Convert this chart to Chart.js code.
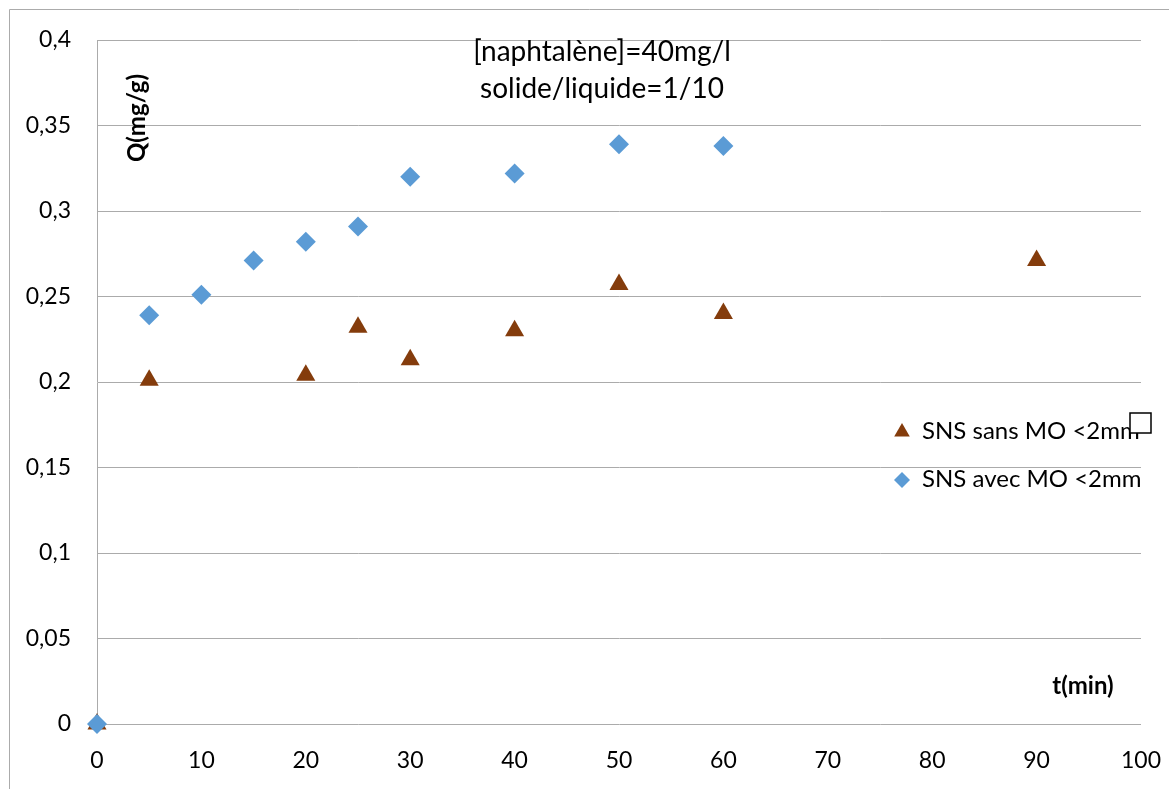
<!DOCTYPE html>
<html>
<head>
<meta charset="utf-8">
<script src="https://cdn.jsdelivr.net/npm/chart.js@4.4.1/dist/chart.umd.min.js"></script>
<style>
    html, body { margin: 0; padding: 0; background: #ffffff; }
    canvas { display: block; }
</style>
</head>
<body>
<canvas id="chart" width="1169" height="789"></canvas>
<script>
/* global Chart */

const FONT_FAMILY = "Lato, 'Open Sans', sans-serif",
    TEXT_COLOR = "#000000",
    GRID_COLOR = "#ababab",
    SANS_COLOR = "#843c0c",
    AVEC_COLOR = "#5b9bd5",
    LABEL_SANS = "SNS sans MO <2mm",
    LABEL_AVEC = "SNS avec MO <2mm",
    LABEL_X_AXIS = "t(min)",
    LABEL_Y_AXIS = "Q(mg/g)",
    TITLE_LINES = ["[naphtalène]=40mg/l", "solide/liquide=1/10"];

// temps (min) et quantité adsorbée Q (mg/g)
const sansTimes = [0, 5, 20, 25, 30, 40, 50, 60, 90];
const sansValues = [0, 0.201, 0.204, 0.232, 0.213, 0.230, 0.257, 0.240, 0.271];
const avecTimes = [0, 5, 10, 15, 20, 25, 30, 40, 50, 60];
const avecValues = [0, 0.239, 0.251, 0.271, 0.282, 0.291, 0.320, 0.322, 0.339, 0.338];

const xTickLabels = ["0", "10", "20", "30", "40", "50", "60", "70", "80", "90", "100"];
const yTickLabels = ["0", "0,05", "0,1", "0,15", "0,2", "0,25", "0,3", "0,35", "0,4"];

function toPoints(xs, ys) {
    let points = [];
    for (let i = 0; i < xs.length; i++) {
        points.push({ x: xs[i], y: ys[i] });
    }
    return points;
}

const decorations = {
    id: "decorations",
    beforeDraw(chart) {
        // cadre extérieur (bords gauche et haut)
        const ctx = chart.ctx;
        ctx.save();
        ctx.strokeStyle = GRID_COLOR;
        ctx.lineWidth = 1;
        ctx.beginPath();
        ctx.moveTo(9.5, chart.height);
        ctx.lineTo(9.5, 9.5);
        ctx.lineTo(chart.width, 9.5);
        ctx.stroke();
        ctx.restore();
    },
    afterDatasetsDraw(chart) {
        const ctx = chart.ctx,
            area = chart.chartArea;
        ctx.save();
        ctx.fillStyle = TEXT_COLOR;

        // titre dans la zone de tracé
        ctx.font = "28px " + FONT_FAMILY;
        ctx.textAlign = "center";
        ctx.textBaseline = "middle";
        ctx.fillText(TITLE_LINES[0], area.left + 505, area.top + 12);
        ctx.fillText(TITLE_LINES[1], area.left + 505, area.top + 49);

        // titres des axes
        ctx.font = "bold 24px " + FONT_FAMILY;
        ctx.fillText(LABEL_X_AXIS, area.right - 58, area.bottom - 38);
        ctx.save();
        ctx.translate(area.left + 40, area.top + 78);
        ctx.rotate(-Math.PI / 2);
        ctx.fillText(LABEL_Y_AXIS, 0, 0);
        ctx.restore();

        // légende
        const entries = [
            { label: LABEL_SANS, color: SANS_COLOR, style: "triangle", radius: 9, y: area.top + 391 },
            { label: LABEL_AVEC, color: AVEC_COLOR, style: "rectRot", radius: 8, y: area.top + 439 },
        ];
        ctx.font = "24px " + FONT_FAMILY;
        ctx.textAlign = "left";
        entries.forEach(function (entry) {
            ctx.fillStyle = entry.color;
            Chart.helpers.drawPoint(ctx, {
                pointStyle: entry.style,
                radius: entry.radius,
                rotation: 0,
                borderWidth: 0,
            }, area.right - 239, entry.y + 1);
            ctx.fillStyle = TEXT_COLOR;
            ctx.fillText(entry.label, area.right - 219, entry.y);
        });
        ctx.fillStyle = "#ffffff";
        ctx.strokeStyle = "#000000";
        ctx.lineWidth = 1.5;
        ctx.fillRect(area.right - 11, area.top + 373, 21, 20);
        ctx.strokeRect(area.right - 11, area.top + 373, 21, 20);
        ctx.restore();
    },
};

const chart = new Chart(document.getElementById("chart"), {
    type: "scatter",
    data: {
        datasets: [
            {
                label: LABEL_SANS,
                data: toPoints(sansTimes, sansValues),
                pointStyle: "triangle",
                pointRadius: 11,
                pointHoverRadius: 11,
                pointBorderWidth: 0,
                backgroundColor: SANS_COLOR,
                borderColor: SANS_COLOR,
                clip: false,
                order: 1,
            },
            {
                label: LABEL_AVEC,
                data: toPoints(avecTimes, avecValues),
                pointStyle: "rectRot",
                pointRadius: 10,
                pointHoverRadius: 10,
                pointBorderWidth: 0,
                backgroundColor: AVEC_COLOR,
                borderColor: AVEC_COLOR,
                clip: false,
                order: 0,
            },
        ],
    },
    options: {
        responsive: false,
        animation: false,
        events: [],
        layout: {
            padding: { top: 40, right: 0, left: 0, bottom: 0 },
        },
        plugins: {
            legend: { display: false },
            tooltip: { enabled: false },
        },
        scales: {
            x: {
                type: "linear",
                min: 0,
                max: 100,
                afterFit(scale) {
                    scale.height = 65;
                    scale.paddingLeft = 0;
                    scale.paddingRight = 28;
                },
                afterBuildTicks(scale) {
                    scale.ticks = xTickLabels.map(function (t) { return { value: Number(t) }; });
                },
                ticks: {
                    color: TEXT_COLOR,
                    font: { family: FONT_FAMILY, size: 23 },
                    padding: 23,
                    maxRotation: 0,
                    callback: function (value, index) { return xTickLabels[index]; },
                },
                grid: { display: false, drawTicks: false },
                border: { display: false },
            },
            y: {
                type: "linear",
                min: 0,
                max: 0.4,
                afterFit(scale) {
                    scale.width = 97;
                },
                afterBuildTicks(scale) {
                    scale.ticks = yTickLabels.map(function (t) { return { value: Number(t.replace(",", ".")) }; });
                },
                ticks: {
                    color: TEXT_COLOR,
                    font: { family: FONT_FAMILY, size: 23 },
                    padding: 26,
                    callback: function (value, index) { return yTickLabels[index]; },
                },
                grid: { color: GRID_COLOR, drawTicks: false },
                border: { display: true, color: GRID_COLOR },
            },
        },
    },
    plugins: [decorations],
});
</script>
</body>
</html>
